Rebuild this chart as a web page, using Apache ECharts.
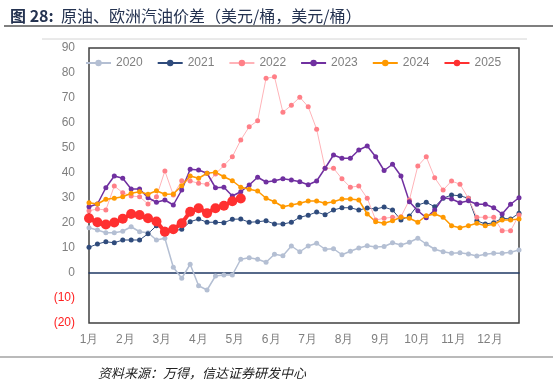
<!DOCTYPE html>
<html><head><meta charset="utf-8">
<script src="https://cdn.jsdelivr.net/npm/echarts@6/dist/echarts.min.js"></script>
<style>html,body{margin:0;padding:0;background:#fff}#c{width:558px;height:388px}</style>
</head><body><div id="c"></div>
<script>
const monthLabels = ['1月','2月','3月','4月','5月','6月','7月','8月','9月','10月','11月','12月'];
const weeks = Array.from({length:52},(_,i)=>'W'+(i+1));
const s2020 = [18.1,17.2,16.1,16.1,16.7,18.5,16.5,16.1,13.2,13.9,2.3,-2.1,3.5,-5.1,-6.8,-1.2,-0.8,-0.8,5.5,6.1,5.5,4.3,7.5,6.9,10.8,8.5,10.8,11.9,9.5,9.7,7.3,8.7,10.0,10.9,10.4,10.6,12.1,11.2,12.3,13.9,11.6,9.5,8.5,7.9,8.1,7.6,6.8,7.5,7.9,7.9,8.3,9.2];
const s2021 = [10.3,11.6,12.5,12.1,13.2,13.2,13.2,15.7,18.9,17.5,16.8,17.5,20.5,21.6,20.3,20.3,20.1,21.5,21.6,20.3,20.5,20.9,19.6,19.6,20.3,22.3,23.1,24.4,23.3,25.2,26.1,26.1,25.2,26.0,25.6,26.4,25.2,21.2,22.8,27.2,28.3,26.5,29.9,31.2,30.9,29.9,20.9,19.6,20.1,21.9,21.6,23.9];
const s2022 = [24.9,25.6,25.2,34.8,32.1,30.8,30.5,27.6,30.5,40.8,31.2,36.9,36.8,35.9,35.5,39.6,43.0,46.5,53.2,58.5,60.9,77.9,78.5,64.3,67.1,70.3,66.5,57.5,41.9,41.9,37.7,34.3,34.8,29.9,21.2,21.9,22.3,22.5,29.2,42.8,46.5,38.1,33.2,36.8,35.5,29.9,22.3,22.3,22.3,16.9,16.9,23.2];
const s2023 = [26.5,27.6,34.1,38.8,37.9,33.6,33.6,30.1,28.3,29.2,27.2,33.2,41.5,41.2,39.9,34.1,34.3,30.8,32.5,35.2,38.3,36.4,36.9,37.7,37.2,36.5,35.3,36.8,41.9,47.2,45.9,45.9,49.2,50.8,46.5,41.0,43.5,38.8,28.5,24.9,22.1,25.2,30.1,29.6,28.1,28.9,27.5,27.5,26.1,23.6,27.5,30.1];
const s2024 = [28.1,27.6,29.5,29.9,30.5,31.9,32.5,31.5,32.9,31.5,31.6,34.9,38.8,37.9,39.9,40.3,38.5,36.9,34.3,33.5,32.8,29.9,28.5,26.5,27.2,27.9,28.8,28.8,27.9,28.5,29.6,29.6,29.2,23.6,20.5,19.9,20.9,22.3,21.9,20.3,22.9,23.6,22.3,18.9,18.1,18.9,19.9,18.9,19.5,21.2,21.2,21.6];
const s2025 = [21.9,20.3,19.4,20.2,21.7,23.6,23.2,21.9,20.6,16.5,17.5,19.9,24.5,25.9,23.9,25.9,26.9,28.7,29.8];

const chart = echarts.init(document.getElementById('c'), null, {renderer:'canvas'});
function line(name, data, color, width, size, lineColor){
  return {name, type:'line', data, xAxisIndex:0, yAxisIndex:0,
    symbol:'circle', symbolSize:size, showSymbol:true, showAllSymbol:true,
    itemStyle:{color:color},
    lineStyle:{color:lineColor||color, width:width},
    emphasis:{disabled:true}, animation:false, z: name==='2025'?10:5};
}
chart.setOption({
  animation:false,
  title:[
    {text:'{b|图 28:}  原油、欧洲汽油价差（美元/桶，美元/桶）', left:5, top:3,
     textStyle:{fontFamily:'Noto Sans CJK SC', fontSize:16, fontWeight:'normal', color:'#243250',
       rich:{b:{fontFamily:'Noto Sans CJK SC', fontSize:16, fontWeight:'bold', color:'#243250'}}}},
    {text:'资料来源：万得，信达证券研发中心', left:93, top:362,
     textStyle:{fontFamily:'Noto Sans CJK SC', fontSize:13, fontWeight:'normal', fontStyle:'italic', color:'#222'}}
  ],
  graphic:[
    {type:'line', shape:{x1:4,y1:26,x2:553,y2:26}, style:{stroke:'#555', lineWidth:1.5}},
    {type:'line', shape:{x1:42,y1:39,x2:527,y2:39}, style:{stroke:'#d4d4d4', lineWidth:1}},
    {type:'line', shape:{x1:0,y1:357,x2:553,y2:357}, style:{stroke:'#777', lineWidth:1.2}}
  ],
  legend:{left:80, top:52, itemWidth:25, itemHeight:8, itemGap:14,
    textStyle:{fontFamily:'Liberation Sans', fontSize:12, color:'#7f7f7f'},
    data:['2020','2021','2022','2023','2024','2025']},
  grid:{left:89, right:39, top:48, bottom:65, show:true, borderColor:'#404040', borderWidth:1.5, backgroundColor:'transparent'},
  xAxis:[
    {type:'category', data:weeks, boundaryGap:false,
     axisLine:{onZero:true, lineStyle:{color:'#1f3864', width:1.5}},
     axisTick:{show:false}, axisLabel:{show:false}, splitLine:{show:false}},
    {type:'value', min:0, max:11.8, interval:1, position:'bottom',
     axisLine:{show:false}, axisTick:{show:false}, splitLine:{show:false},
     axisLabel:{margin:11, showMaxLabel:false, fontFamily:'Liberation Sans', fontSize:12, color:'#7f7f7f',
       formatter:v=>monthLabels[v]||''}}
  ],
  yAxis:{type:'value', min:-20, max:90, interval:10,
    axisLine:{show:false}, axisTick:{show:false}, splitLine:{show:false},
    axisLabel:{margin:14, fontFamily:'Liberation Sans', fontSize:12, color:'#7f7f7f',
      formatter:v=> v<0 ? '{n|('+(-v)+')}' : String(v),
      rich:{n:{color:'#ff2020', fontFamily:'Liberation Sans', fontSize:12}}}},
  series:[
    line('2020', s2020, '#b4bfd3', 1.5, 5),
    line('2021', s2021, '#2f4b7c', 1, 5),
    line('2022', s2022, '#ff7f87', 1, 5, '#ffb3b8'),
    line('2023', s2023, '#7030a0', 1.5, 5),
    line('2024', s2024, '#ff9900', 1.5, 5),
    line('2025', s2025, '#ff3030', 4, 10)
  ]
});
</script></body></html>
